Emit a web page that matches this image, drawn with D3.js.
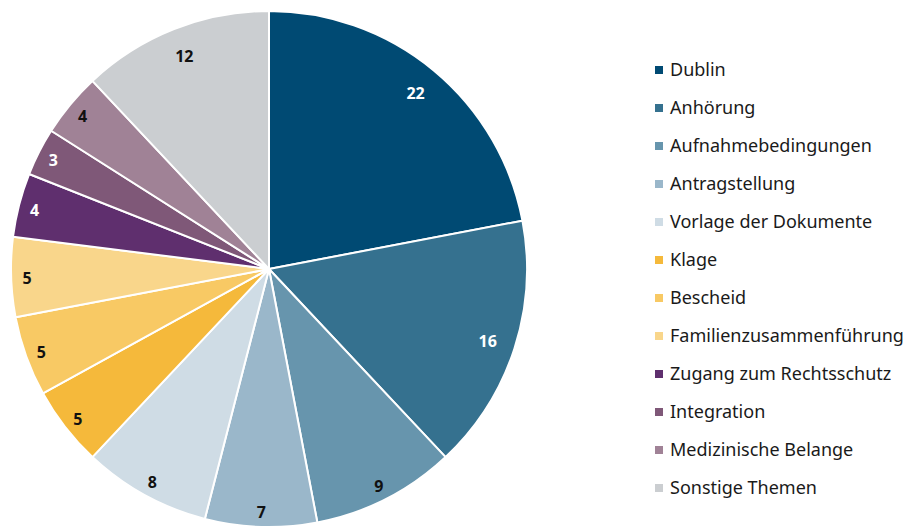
<!DOCTYPE html>
<html>
<head>
<meta charset="utf-8">
<script src="https://cdn.jsdelivr.net/npm/d3@7"></script>
<style>
  body { margin: 0; background: #fff; }
  svg { display: block; font-family: "Noto Sans", sans-serif; }
</style>
</head>
<body>
<div id="chart"></div>
<script>
const width = 909;
const height = 528;

// data
const categories = [
  "Dublin", "Anhörung", "Aufnahmebedingungen", "Antragstellung",
  "Vorlage der Dokumente", "Klage", "Bescheid", "Familienzusammenführung",
  "Zugang zum Rechtsschutz", "Integration", "Medizinische Belange", "Sonstige Themen"
];
const values = [22, 16, 9, 7, 8, 5, 5, 5, 4, 3, 4, 12];
const colors = [
  "#004a73", "#35718f", "#6795ad", "#9ab7ca", "#cfdce5", "#f5b93b",
  "#f8c964", "#f9d68b", "#5f2f6e", "#7f5878", "#a08296", "#cbced1"
];
const labelColors = [
  "#fff", "#fff", "#111", "#111", "#111", "#111",
  "#111", "#111", "#fff", "#fff", "#111", "#111"
];

const data = categories.map((c, i) => ({ name: c, value: values[i], i }));

const cx = 269, cy = 269, radius = 258;

const svg = d3.select("#chart").append("svg")
  .attr("width", width)
  .attr("height", height);

const pie = d3.pie().value(d => d.value).sort(null);
const arc = d3.arc().innerRadius(0).outerRadius(radius);
// big slices get their label a bit further in
const bigArc = d3.arc().innerRadius(230).outerRadius(230);
const smallArc = d3.arc().innerRadius(242).outerRadius(242);

const g = svg.append("g").attr("transform", `translate(${cx},${cy})`);

const slices = pie(data);

g.selectAll("path.slice")
  .data(slices)
  .enter()
  .append("path")
  .attr("class", "slice")
  .attr("d", arc)
  .attr("fill", d => colors[d.data.i])
  .attr("stroke", "#fff")
  .attr("stroke-width", 2)
  .attr("stroke-linejoin", "round");

g.selectAll("text.val")
  .data(slices)
  .enter()
  .append("text")
  .attr("class", "val")
  .attr("transform", d => `translate(${(d.data.value >= 12 ? bigArc : smallArc).centroid(d)})`)
  .attr("text-anchor", "middle")
  .attr("dy", "0.45em")
  .style("font-size", "16px")
  .style("font-weight", "bold")
  .attr("fill", d => labelColors[d.data.i])
  .text(d => d.data.value);

// legend
const legend = svg.append("g").attr("transform", "translate(655,70)");
const row = legend.selectAll("g.row")
  .data(data)
  .enter()
  .append("g")
  .attr("class", "row")
  .attr("transform", (d, i) => `translate(0,${i * 38})`);

row.append("rect")
  .attr("x", 0)
  .attr("y", -4)
  .attr("width", 8)
  .attr("height", 8)
  .attr("fill", d => colors[d.i]);

row.append("text")
  .attr("x", 15)
  .attr("dy", "0.35em")
  .style("font-size", "18px")
  .attr("fill", "#1a1a1a")
  .text(d => d.name);
</script>
</body>
</html>
